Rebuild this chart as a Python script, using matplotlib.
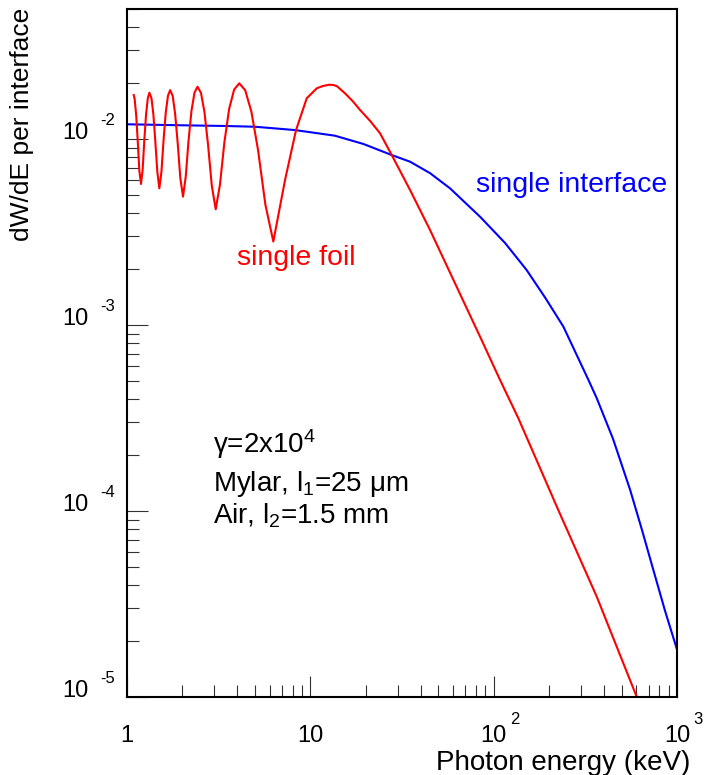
import matplotlib
matplotlib.use('Agg')
import matplotlib.pyplot as plt
from matplotlib.ticker import LogLocator, NullFormatter

plt.rcParams['font.family'] = ['Liberation Sans', 'DejaVu Sans']
plt.rcParams['mathtext.fontset'] = 'custom'
plt.rcParams['mathtext.rm'] = 'Liberation Sans'
plt.rcParams['mathtext.it'] = 'Liberation Sans:italic'
plt.rcParams['mathtext.sf'] = 'Liberation Sans'

# ---- data ----
single_interface_E = [1.0, 2.0, 3.42, 4.99, 8.25, 13.6, 19.5, 27.8, 35.0, 45.0, 57.8,
                      84.3, 115.4, 151, 190.7, 240, 329, 365, 448, 555, 642, 743,
                      861, 1000]
single_interface_W = [0.0120, 0.01185, 0.01175, 0.01164, 0.01117, 0.01042, 0.00940,
                      0.00820, 0.00755, 0.00655, 0.00543, 0.00382, 0.00276, 0.00198,
                      0.001406, 0.00098, 0.000506, 0.000404, 0.000244, 0.000130,
                      8.0e-5, 4.82e-5, 2.9e-5, 1.8e-5]

single_foil_E = [1.088, 1.101, 1.1225, 1.1447, 1.168, 1.192,
                 1.217, 1.243, 1.2705, 1.299, 1.325, 1.360, 1.393, 1.427, 1.4635, 1.501,
                 1.541, 1.583, 1.627, 1.673, 1.720, 1.775, 1.830, 1.890, 1.953, 2.021,
                 2.091, 2.166, 2.248, 2.335, 2.425, 2.533, 2.645, 2.767, 2.901, 3.047,
                 3.214, 3.399, 3.606, 3.840, 4.095, 4.413, 4.769, 5.187, 5.685, 6.283,
                 7.278, 8.356, 9.558, 10.84, 11.7, 12.70, 13.4, 14.0, 15.46, 17.0, 18.67,
                 21.2, 24.01, 27.80, 34.99, 44.98, 84.3, 108.4, 136.4, 225.4, 365.1, 603.5]
single_foil_W = [0.01724, 0.0164, 0.0134, 0.0097, 0.00674, 0.00573,
                 0.00683, 0.00985, 0.01357, 0.01659, 0.01774, 0.01657, 0.01352, 0.00972,
                 0.00667, 0.00543,
                 0.00665, 0.00988, 0.01387, 0.01709, 0.01832, 0.01704, 0.01368, 0.00953,
                 0.00618, 0.00490,
                 0.00627, 0.00980, 0.01421, 0.01775, 0.01910, 0.01769, 0.01396, 0.00933,
                 0.00561, 0.00419,
                 0.00569, 0.00962, 0.01450, 0.01843, 0.01993, 0.01830, 0.01403, 0.00871,
                 0.00444, 0.00281,
                 0.00602, 0.01117, 0.01656, 0.01873, 0.01927, 0.01959, 0.0195, 0.0192,
                 0.0176, 0.0160, 0.01433, 0.0125, 0.01073, 0.00820, 0.00532, 0.00324,
                 0.000865, 0.000506, 0.000315, 0.000101, 3.46e-5, 1.0e-5]

x_tick_values = [1, 10, 100, 1000]
x_tick_bases = ['1', '10', '10', '10']
x_tick_exps = ['', '', '2', '3']
y_tick_values = [1e-5, 1e-4, 1e-3, 1e-2]
y_tick_bases = ['10', '10', '10', '10']
y_tick_exps = ['-5', '-4', '-3', '-2']

W, H = 706, 775
fig = plt.figure(figsize=(W / 100, H / 100), dpi=100)
ax = fig.add_axes([127 / W, 78 / H, 550 / W, 688 / H])

ax.plot(single_interface_E, single_interface_W, color='#0000ff', lw=1.5)
ax.plot(single_foil_E, single_foil_W, color='#ff0000', lw=1.5)
ax.set_xscale('log')
ax.set_yscale('log')
ax.set_xlim(1, 1000)
ax.set_ylim(1e-5, 5e-2)

ax.xaxis.set_major_locator(LogLocator(base=10, numticks=10))
ax.xaxis.set_minor_locator(LogLocator(base=10, subs=range(2, 10), numticks=20))
ax.yaxis.set_major_locator(LogLocator(base=10, numticks=10))
ax.yaxis.set_minor_locator(LogLocator(base=10, subs=range(2, 10), numticks=20))
for axis in (ax.xaxis, ax.yaxis):
    axis.set_major_formatter(NullFormatter())
    axis.set_minor_formatter(NullFormatter())
ax.tick_params(which='both', direction='in', top=False, right=False,
               color='#333333', width=0.8)
ax.tick_params(which='major', length=15)
ax.tick_params(which='minor', length=8.3)
for sp in ax.spines.values():
    sp.set_linewidth(1.5)
    sp.set_color('black')

# ROOT-style tick labels
for v, b, e in zip(x_tick_values, x_tick_bases, x_tick_exps):
    ax.annotate(b, xy=(v, 0), xycoords=('data', 'axes fraction'),
                xytext=(0, -45), textcoords='offset pixels',
                ha='center', va='baseline', fontsize=17)
    if e:
        ax.annotate(e, xy=(v, 0), xycoords=('data', 'axes fraction'),
                    xytext=(16, -27), textcoords='offset pixels',
                    ha='left', va='baseline', fontsize=12, annotation_clip=False)
for v, b, e in zip(y_tick_values, y_tick_bases, y_tick_exps):
    ax.annotate(b, xy=(0, v), xycoords=('axes fraction', 'data'),
                xytext=(-39, 0), textcoords='offset pixels',
                ha='right', va='baseline', fontsize=17)
    ax.annotate(e, xy=(0, v), xycoords=('axes fraction', 'data'),
                xytext=(-27, 14), textcoords='offset pixels',
                ha='left', va='baseline', fontsize=12)

def ftxt(x, y, s, **kw):
    fig.text(x / W, 1 - y / H, s, **kw)

ftxt(690, 770, 'Photon energy (keV)', ha='right', va='baseline', fontsize=20)
ftxt(22, 8, 'dW/dE per interface', ha='center', va='top', rotation=90, fontsize=19)

ftxt(237, 265, 'single foil', color='#ff0000', ha='left', va='baseline', fontsize=20.5)
ftxt(476, 192, 'single interface', color='#0000ff', ha='left', va='baseline', fontsize=20.5)

ftxt(213, 453, 'γ=2x10$^{4}$', ha='left', va='baseline', fontsize=20)
ftxt(213, 491, 'Mylar, l$_{1}$=25 μm', ha='left', va='baseline', fontsize=20)
ftxt(213, 523, 'Air, l$_{2}$=1.5 mm', ha='left', va='baseline', fontsize=20)

fig.savefig('out.png', dpi=100)
